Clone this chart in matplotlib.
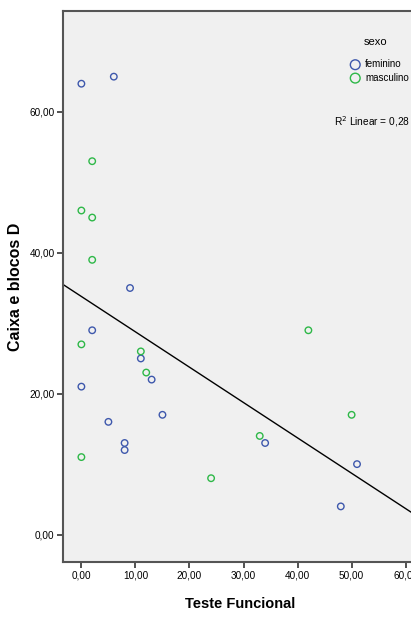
import matplotlib.pyplot as plt
import numpy as np

# data (Teste Funcional vs Caixa e blocos D)
fem_x = [0, 6, 9, 2, 11, 13, 0, 5, 15, 8, 8, 34, 51, 48]
fem_y = [64, 65, 35, 29, 25, 22, 21, 16, 17, 13, 12, 13, 10, 4]
masc_x = [2, 0, 2, 2, 0, 11, 12, 0, 33, 24, 42, 50]
masc_y = [53, 46, 45, 39, 27, 26, 23, 11, 14, 8, 29, 17]
xticks = [0, 10, 20, 30, 40, 50, 60]
yticks = [0, 20, 40, 60]
r2_text = 'R$^2$ Linear = 0,28'

fnt = ['Liberation Sans', 'DejaVu Sans']
blue = '#3E58AC'
green = '#2EB848'

fig = plt.figure(figsize=(4.11, 6.19), dpi=100)
ax = fig.add_axes([0.1533, 0.092, 0.86, 0.890])
ax.set_facecolor('#F0F0F0')

ax.scatter(fem_x, fem_y, s=22, facecolors='none', edgecolors=blue, linewidths=1, label='feminino', zorder=3)
ax.scatter(masc_x, masc_y, s=22, facecolors='none', edgecolors=green, linewidths=1, label='masculino', zorder=3)

# fit line over all points
allx = np.array(fem_x + masc_x, dtype=float)
ally = np.array(fem_y + masc_y, dtype=float)
b, a = np.polyfit(allx, ally, 1)
xl = np.array([-3.4, 62.5])
ax.plot(xl, a + b * xl, color='black', lw=1, zorder=2)

ax.set_xlim(-3.4, 62.0)
ax.set_ylim(-3.9, 74.3)
ax.set_xticks(xticks)
ax.set_yticks(yticks)
ax.set_xticklabels(['%d,00' % v for v in xticks], family=fnt, fontsize=7.2)
ax.set_yticklabels(['%d,00' % v for v in yticks], family=fnt, fontsize=7.2)
ax.tick_params(direction='out', length=4, width=1.2, color='#333333', pad=2)

for s in ['left', 'bottom', 'top']:
    ax.spines[s].set_color('#555555')
    ax.spines[s].set_linewidth(1.5)
ax.spines['right'].set_visible(False)

ax.set_xlabel('Teste Funcional', family=fnt, fontweight='bold', fontsize=10.5)
ax.set_ylabel('Caixa e blocos D', family=fnt, fontweight='bold', fontsize=11.5)
ax.xaxis.set_label_coords(0.5, -0.063)
ax.yaxis.set_label_coords(-0.113, 0.5)

ax.text(0.885, 0.944, 'sexo', transform=ax.transAxes, ha='center', va='center',
        family=fnt, fontsize=8)
leg = ax.legend(loc='upper left', bbox_to_anchor=(0.78, 0.925), frameon=False,
                prop={'family': fnt, 'size': 7}, markerscale=1.5, handletextpad=0.0,
                labelspacing=0.35, borderpad=0.2)
ax.text(0.982, 0.8, r2_text, transform=ax.transAxes, ha='right', va='center',
        family=fnt, fontsize=7.3)

fig.savefig('out.png', dpi=100)
